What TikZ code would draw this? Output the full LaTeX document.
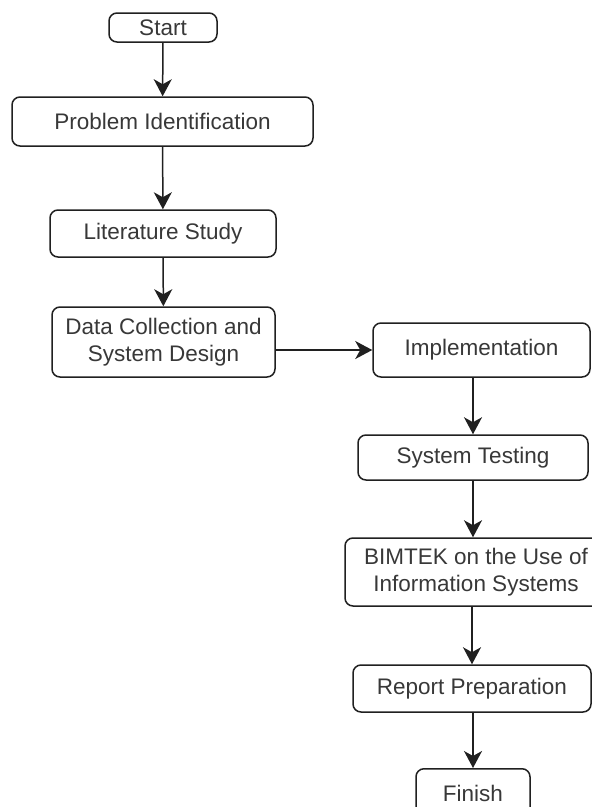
\documentclass[tikz,border=0pt]{standalone}
\usepackage{fontspec}
\setmainfont{Liberation Sans}
\usetikzlibrary{arrows.meta}
\definecolor{txt}{HTML}{383838}
\definecolor{brd}{HTML}{202020}
\tikzset{
  box/.style={draw=brd, line width=1.5pt, rounded corners=8pt, fill=white,
    text=txt, align=center, inner sep=0pt,
    font=\fontsize{22.5}{26.5}\selectfont},
  flow/.style={draw=brd, line width=1.5pt,
    -{Stealth[length=17pt,width=18pt,inset=5pt]}}
}
\begin{document}
\begin{tikzpicture}[x=1pt,y=-1pt]
\useasboundingbox (0,0) rectangle (592,807);
\clip (0,0) rectangle (592,807);
\fill[white] (0,0) rectangle (592,807);
\node[box, minimum width=108pt, minimum height=29pt] (start) at (163,27.5) {Start};
\node[box, minimum width=301pt, minimum height=49pt] (prob) at (162.5,121.5) {Problem Identification};
\node[box, minimum width=226pt, minimum height=47pt] (lit) at (163,233.5) {Literature Study};
\node[box, minimum width=223pt, minimum height=70pt] (data) at (163.5,342) {Data Collection and\\System Design};
\node[box, minimum width=217pt, minimum height=54pt] (impl) at (481.5,350) {Implementation};
\node[box, minimum width=230pt, minimum height=45pt] (test) at (473,457.5) {System Testing};
\node[box, minimum width=262pt, minimum height=68pt] (bim) at (476,572) {BIMTEK on the Use of\\Information Systems};
\node[box, minimum width=238pt, minimum height=47pt] (rep) at (472,688.5) {Report Preparation};
\node[box, minimum width=114pt, minimum height=50pt, anchor=north] (fin) at (473,768) {Finish};
\path[flow] (start) -- (prob);
\path[flow] (prob) -- (lit);
\path[flow] (lit) -- (data);
\path[flow] (data.east |- impl.west) -- (impl.west);
\path[flow] (impl.south -| test.north) -- (test.north);
\path[flow] (test) -- (test.north |- bim.north);
\path[flow] (bim.south -| rep.north) -- (rep.north);
\path[flow] (rep.south -| fin.north) -- (fin.north);
\end{tikzpicture}
\end{document}
